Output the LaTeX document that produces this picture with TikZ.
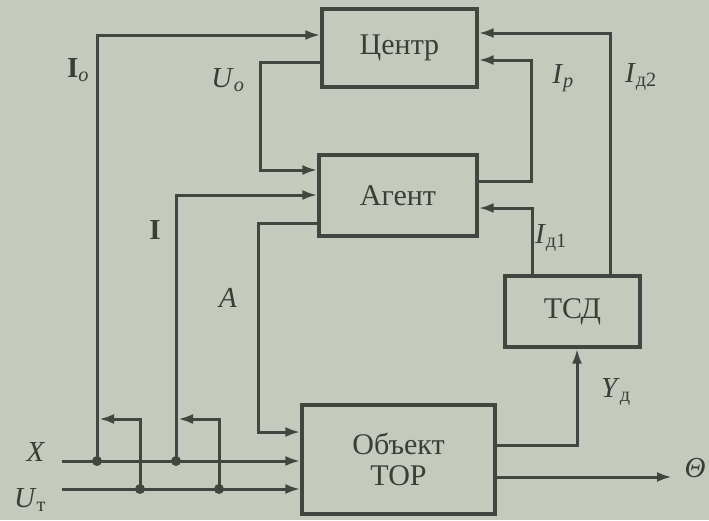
\documentclass[tikz,border=0pt]{standalone}
\usepackage{fontspec}
\setmainfont{Liberation Serif}
\usetikzlibrary{arrows.meta,calc}
\definecolor{bg}{RGB}{198,202,190}
\definecolor{ink}{RGB}{66,70,64}
\definecolor{txt}{RGB}{58,61,56}
\begin{document}
\begin{tikzpicture}[x=1pt,y=-1pt,
  box/.style={draw=ink,line width=3.2pt,inner sep=0pt,text=txt,
    font=\fontsize{30}{33}\selectfont,align=center},
  conn/.style={draw=ink,line width=3pt},
  arr/.style={conn,-{Latex[length=15pt,width=10pt]}},
  lab/.style={text=txt,font=\fontsize{29}{31}\selectfont,inner sep=0pt},
  dot/.style={circle,fill=ink,inner sep=0pt,minimum size=10pt}]
\useasboundingbox (0,0) rectangle (709,520);
\fill[bg] (0,0) rectangle (709,520);

% boxes
\node[box,minimum width=155pt,minimum height=78pt] (centr) at (399.5,48) {Центр};
\node[box,minimum width=158pt,minimum height=81pt] (agent) at (398,195.5) {Агент};
\node[box,minimum width=135pt,minimum height=71pt] (tsd) at (572.5,311.5) {ТСД};
\node[box,minimum width=193pt,minimum height=109pt] (obj) at (398.5,459.5) {Объект\\[-2pt]ТОР};

% coordinates
\coordinate (xs) at (62,461);
\coordinate (us) at (62,489);
\coordinate (jx1) at (97,461);
\coordinate (jx2) at (176,461);
\coordinate (ju1) at (140,489);
\coordinate (ju2) at (219,489);
\coordinate (fb1) at (99,419);
\coordinate (fb2) at (178,419);
\coordinate (cIo) at (centr.west |- 0,35);
\coordinate (cUo) at (centr.west |- 0,62);
\coordinate (aUo) at (agent.west |- 0,170);
\coordinate (aI) at (agent.west |- 0,195);
\coordinate (aA) at (agent.west |- 0,223);
\coordinate (oA) at (obj.west |- 0,432);
\coordinate (oX) at (obj.west |- xs);
\coordinate (oU) at (obj.west |- us);
\coordinate (aIp) at (agent.east |- 0,181);
\coordinate (cIp) at (centr.east |- 0,60);
\coordinate (cId2) at (centr.east |- 0,33);
\coordinate (aId1) at (agent.east |- 0,208);
\coordinate (tId2) at (610,0 |- tsd.north);
\coordinate (tId1) at (532,0 |- tsd.north);
\coordinate (oY) at (obj.east |- 0,445);
\coordinate (tY) at (577,0 |- tsd.south);
\coordinate (oT) at (obj.east |- 0,477);
\coordinate (thEnd) at (672,477);

% connectors
\draw[arr] (xs) -- (oX);
\draw[arr] (us) -- (oU);
\draw[arr] (jx1) |- (cIo);
\draw[arr] (jx2) |- (aI);
\draw[arr] (ju1) |- (fb1);
\draw[arr] (ju2) |- (fb2);
\draw[arr] (cUo) -- (260,62) -- (260,170) -- (aUo);
\draw[arr] (aA) -- (258,223) -- (258,432) -- (oA);
\draw[arr] (aIp) -- (531,181) -- (531,60) -- (cIp);
\draw[arr] (tId2) |- (cId2);
\draw[arr] (tId1) |- (aId1);
\draw[arr] (oY) -| (tY);
\draw[arr] (oT) -- (thEnd);

% junction dots
\node[dot] (d1) at (jx1) {};
\node[dot] (d2) at (jx2) {};
\node[dot] (d3) at (ju1) {};
\node[dot] (d4) at (ju2) {};

% labels
\node[lab] (lIo) at (78,70) {\textbf{I}\textsubscript{\textit{o}}};
\node[lab] (lUo) at (228,80) {\textit{U}\textsubscript{\textit{o}}};
\node[lab] (lIp) at (563,78) {\textit{I}\textsubscript{\textit{р}}};
\node[lab] (lId2) at (641,77) {\textit{I}\textsubscript{д2}};
\node[lab] (lI) at (155,230) {\textbf{I}};
\node[lab] (lA) at (228,298) {\textit{A}};
\node[lab] (lId1) at (551,238) {\textit{I}\textsubscript{д1}};
\node[lab] (lY) at (616,392) {\textit{Y}\textsubscript{д}};
\node[lab] (lX) at (36,452) {\textit{X}};
\node[lab] (lU) at (30,500) {\textit{U}\textsubscript{т}};
\node[lab] (lT) at (695,468) {\textit{Θ}};
\end{tikzpicture}
\end{document}
